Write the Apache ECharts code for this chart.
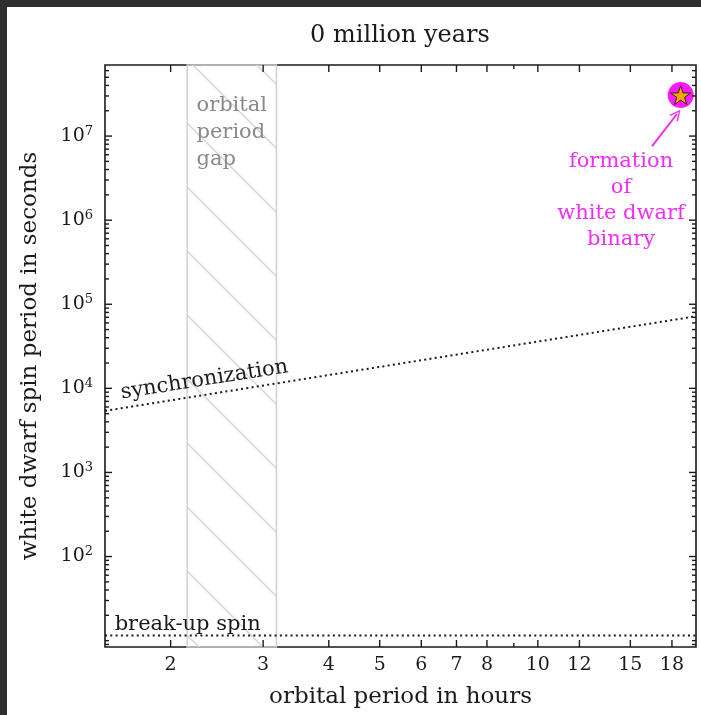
<!DOCTYPE html>
<html>
<head>
<meta charset="utf-8">
<script src="https://cdn.jsdelivr.net/npm/echarts@6/dist/echarts.min.js"></script>
<style>
html,body{margin:0;padding:0;background:#2f2f2f;width:701px;height:715px;overflow:hidden;}
#chart{position:absolute;left:7px;top:7px;width:694px;height:708px;background:#ffffff;}
#ticks{position:absolute;left:7px;top:7px;width:694px;height:708px;background:transparent;pointer-events:none;z-index:2;}
</style>
</head>
<body>
<div id="chart"></div>
<div id="ticks"></div>
<script>
// ---- data ----
const titleText = '0 million years';
const xName = 'orbital period in hours';
const yName = 'white dwarf spin period in seconds';
const xRange = [1.5, 20];
const yRange = [8.4, 7.0e7];
const xTicks = [2, 3, 4, 5, 6, 7, 8, 10, 12, 15, 18];
const xMinorTicks = [9];
const yTicks = [1e2, 1e3, 1e4, 1e5, 1e6, 1e7];
const yMinorTicks = [9, 10, 20, 30, 40, 50, 60, 70, 80, 90,
  200, 300, 400, 500, 600, 700, 800, 900,
  2e3, 3e3, 4e3, 5e3, 6e3, 7e3, 8e3, 9e3,
  2e4, 3e4, 4e4, 5e4, 6e4, 7e4, 8e4, 9e4,
  2e5, 3e5, 4e5, 5e5, 6e5, 7e5, 8e5, 9e5,
  2e6, 3e6, 4e6, 5e6, 6e6, 7e6, 8e6, 9e6,
  2e7, 3e7, 4e7, 5e7, 6e7];
const gapRange = [2.15, 3.18];
const syncPeriod = [1.5, 20];
const syncSpin = [5400, 72000];
const breakupPeriod = [1.5, 20];
const breakupSpin = [11.5, 11.5];
const formationPoint = [18.7, 3.07e7];
const arrowFrom = [16.5, 7.6e6];
const arrowTo = [18.4, 1.83e7];
const syncLabelPos = [2.32, 12600];
const breakupLabelPos = [1.565, 15.5];
const gapLabelPos = [2.24, 1.09e7];
const formationLabelPos = [14.4, 1.69e6];
const syncLabel = 'synchronization';
const breakupLabel = 'break-up spin';
const gapLabel = 'orbital\nperiod\ngap';
const formationLabel = 'formation\nof\nwhite dwarf\nbinary';

// ---- style ----
const FONT = 'DejaVu Serif';
const INK = '#1a1a1a';
const MAGENTA = '#f030f0';
const GRID = {left: 98, top: 58, width: 591, height: 582, containLabel: false};

function hatchPattern() {
  const c = document.createElement('canvas');
  const s = 64;
  c.width = s; c.height = s;
  const g = c.getContext('2d');
  g.strokeStyle = '#d6d6d6';
  g.lineWidth = 1.5;
  g.beginPath();
  g.moveTo(-4, -4); g.lineTo(s + 4, s + 4);
  g.moveTo(-4 - s, -4); g.lineTo(4, s + 4);
  g.moveTo(s - 4, -4); g.lineTo(2 * s + 4, s + 4);
  g.stroke();
  return c;
}

function textPoint(pos, text, extra) {
  return {
    type: 'scatter', xAxisIndex: 0, yAxisIndex: 0, symbolSize: 0, silent: true, z: 5,
    itemStyle: {opacity: 1},
    data: [pos],
    label: Object.assign({show: true, formatter: text, fontFamily: FONT, fontSize: 21, color: INK, opacity: 1}, extra)
  };
}

// ---------- main chart ----------
const chart = echarts.init(document.getElementById('chart'), null, {renderer: 'canvas'});
chart.setOption({
  animation: false,
  backgroundColor: '#ffffff',
  grid: Object.assign({show: true, borderColor: INK, borderWidth: 1.6, backgroundColor: 'transparent'}, GRID),
  graphic: [{
    type: 'text', x: 393, y: 29, z: 100, silent: true,
    style: {text: titleText, fontFamily: FONT, fontSize: 24, fill: INK, align: 'center', verticalAlign: 'middle'}
  }],
  xAxis: [{
    type: 'log', logBase: 10, min: xRange[0], max: xRange[1], position: 'bottom',
    axisLine: {show: false, onZero: false},
    axisTick: {show: false},
    axisLabel: {show: true, customValues: xTicks, margin: 9, fontFamily: FONT, fontSize: 19, color: INK,
      formatter: v => String(Math.round(v))},
    minorTick: {show: false}, splitLine: {show: false}, minorSplitLine: {show: false},
    name: xName, nameLocation: 'middle', nameGap: 39,
    nameTextStyle: {fontFamily: FONT, fontSize: 23, color: INK}
  }],
  yAxis: [{
    type: 'log', logBase: 10, min: yRange[0], max: yRange[1], position: 'left',
    axisLine: {show: false, onZero: false},
    axisTick: {show: false},
    axisLabel: {show: true, customValues: yTicks, margin: 12, color: INK,
      formatter: v => '{b|10}{s|' + Math.round(Math.log10(v)) + '}',
      rich: {b: {fontFamily: FONT, fontSize: 19, color: INK, lineHeight: 22},
             s: {fontFamily: FONT, fontSize: 13, color: INK, verticalAlign: 'top', lineHeight: 13}}},
    minorTick: {show: false}, splitLine: {show: false}, minorSplitLine: {show: false},
    name: yName, nameLocation: 'middle', nameGap: 63,
    nameTextStyle: {fontFamily: FONT, fontSize: 23, color: INK}
  }],
  series: [
    {
      type: 'line', xAxisIndex: 0, yAxisIndex: 0, data: [], silent: true, z: 1,
      markArea: {
        silent: true,
        itemStyle: {color: {image: hatchPattern(), repeat: 'repeat'}, borderColor: '#d0d0d0', borderWidth: 1.5},
        data: [[{xAxis: gapRange[0]}, {xAxis: gapRange[1]}]]
      }
    },
    {
      type: 'line', xAxisIndex: 0, yAxisIndex: 0, symbol: 'none', silent: true, z: 3,
      data: syncPeriod.map((p, i) => [p, syncSpin[i]]),
      lineStyle: {color: INK, width: 2, type: [2, 3.3], cap: 'butt'}
    },
    {
      type: 'line', xAxisIndex: 0, yAxisIndex: 0, symbol: 'none', silent: true, z: 3,
      data: breakupPeriod.map((p, i) => [p, breakupSpin[i]]),
      lineStyle: {color: INK, width: 2, type: [2, 3.3], cap: 'butt'}
    },
    textPoint(syncLabelPos, syncLabel, {position: 'inside', rotate: 9, align: 'center', verticalAlign: 'middle'}),
    textPoint(breakupLabelPos, breakupLabel, {position: 'inside', align: 'left', verticalAlign: 'middle'}),
    textPoint(gapLabelPos, gapLabel, {position: 'inside', align: 'left', verticalAlign: 'middle', color: '#8a8a8a', lineHeight: 27}),
    textPoint(formationLabelPos, formationLabel, {position: 'inside', align: 'center', verticalAlign: 'middle', color: MAGENTA, lineHeight: 26}),
    {
      type: 'lines', coordinateSystem: 'cartesian2d', xAxisIndex: 0, yAxisIndex: 0, silent: true, z: 6,
      symbol: ['none', 'path://M0,10 L5,0 L10,10 L8.6,10 L5,2.8 L1.4,10 Z'], symbolSize: 11,
      lineStyle: {color: MAGENTA, width: 2, opacity: 1},
      data: [{coords: [arrowFrom, arrowTo]}]
    },
    {
      type: 'scatter', xAxisIndex: 0, yAxisIndex: 0, silent: true, z: 7,
      symbol: 'circle', symbolSize: 26, itemStyle: {color: '#ff1aff', opacity: 1},
      data: [formationPoint]
    },
    {
      type: 'scatter', xAxisIndex: 0, yAxisIndex: 0, silent: true, z: 8,
      symbol: 'path://M50,0 L61.8,35.1 L98.1,35.1 L68.8,56.8 L79.4,91 L50,70 L20.6,91 L31.2,56.8 L1.9,35.1 L38.2,35.1 Z',
      symbolSize: 20, symbolKeepAspect: true,
      itemStyle: {color: '#ffa500', borderColor: '#222', borderWidth: 1, opacity: 1},
      data: [formationPoint]
    }
  ]
});

// ---------- tick overlay (same grid & log axes, only inward tick marks) ----------
function tickSeries(values, side, len) {
  const isX = side === 'bottom' || side === 'top';
  return {
    type: 'custom', silent: true, clip: false, z: 9,
    data: values.map(v => isX ? [v, yRange[0]] : [xRange[0], v]),
    encode: {x: 0, y: 1},
    renderItem: function (params, api) {
      let p, d;
      if (side === 'bottom') { p = api.coord([api.value(0), yRange[0]]); d = [0, -len]; }
      else if (side === 'top') { p = api.coord([api.value(0), yRange[1]]); d = [0, len]; }
      else if (side === 'left') { p = api.coord([xRange[0], api.value(1)]); d = [len, 0]; }
      else { p = api.coord([xRange[1], api.value(1)]); d = [-len, 0]; }
      return {type: 'line', shape: {x1: p[0], y1: p[1], x2: p[0] + d[0], y2: p[1] + d[1]},
        style: {stroke: INK, lineWidth: 1.4}};
    }
  };
}
const tickChart = echarts.init(document.getElementById('ticks'), null, {renderer: 'canvas'});
tickChart.setOption({
  animation: false,
  backgroundColor: 'transparent',
  grid: Object.assign({show: false}, GRID),
  xAxis: {type: 'log', min: xRange[0], max: xRange[1], axisLine: {show: false}, axisTick: {show: false},
    axisLabel: {show: false}, splitLine: {show: false}},
  yAxis: {type: 'log', min: yRange[0], max: yRange[1], axisLine: {show: false}, axisTick: {show: false},
    axisLabel: {show: false}, splitLine: {show: false}},
  series: [
    tickSeries(xTicks, 'bottom', 7),
    tickSeries(xTicks, 'top', 7),
    tickSeries(xMinorTicks, 'bottom', 4),
    tickSeries(xMinorTicks, 'top', 4),
    tickSeries(yTicks, 'left', 7),
    tickSeries(yTicks, 'right', 7),
    tickSeries(yMinorTicks, 'left', 4),
    tickSeries(yMinorTicks, 'right', 4)
  ]
});
</script>
</body>
</html>
